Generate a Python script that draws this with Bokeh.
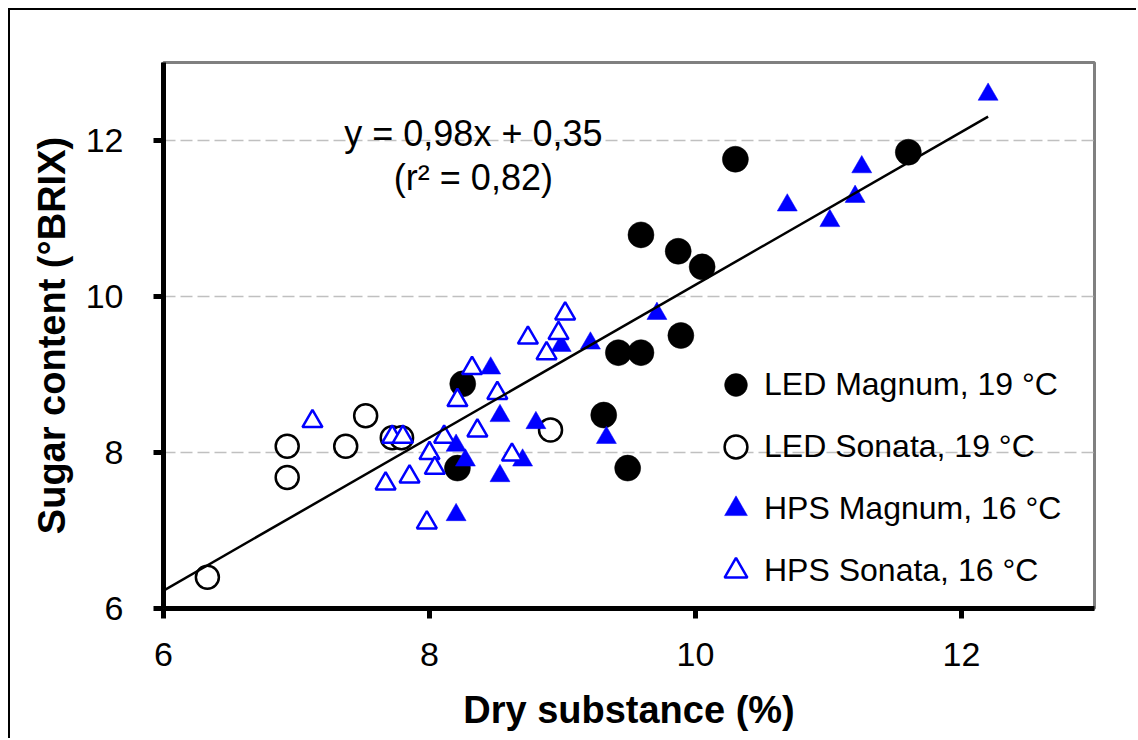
import numpy as np
from bokeh.plotting import figure
from bokeh.models import Range1d, FixedTicker, Legend, LegendItem, Label
from bokeh.embed import file_html
from bokeh.resources import INLINE

# ---- data ----
led_magnum_x = [8.25, 8.21, 9.31, 9.49, 9.42, 9.59, 9.89, 9.59, 9.87, 10.05, 10.30, 11.60]
led_magnum_y = [8.88, 7.80, 8.48, 7.80, 9.28, 9.28, 9.50, 10.79, 10.58, 10.38, 11.76, 11.85]

led_sonata_x = [6.33, 6.93, 6.93, 7.37, 7.52, 7.72, 7.79, 8.91]
led_sonata_y = [6.40, 8.08, 7.68, 8.08, 8.47, 8.19, 8.19, 8.29]

hps_magnum_x = [8.20, 8.20, 8.27, 8.46, 8.53, 8.53, 8.70, 8.80, 8.99, 9.21, 9.33, 9.71,
                10.69, 11.01, 11.20, 11.25, 12.20]
hps_magnum_y = [7.20, 8.09, 7.90, 9.08, 8.47, 7.70, 7.90, 8.38, 9.37, 9.40, 8.19, 9.78,
                11.17, 10.97, 11.28, 11.66, 12.59]

hps_sonata_x = [7.12, 7.67, 7.72, 7.80, 7.85, 7.98, 8.00, 8.04, 8.11, 8.21, 8.32, 8.36,
                8.51, 8.62, 8.74, 8.88, 8.97, 9.02]
hps_sonata_y = [8.40, 7.60, 8.20, 8.20, 7.69, 7.10, 7.99, 7.80, 8.20, 8.67, 9.08, 8.28,
                8.76, 7.97, 9.47, 9.27, 9.53, 9.78]

series_labels = ["LED Magnum, 19 °C", "LED Sonata, 19 °C", "HPS Magnum, 16 °C", "HPS Sonata, 16 °C"]
fit_slope, fit_intercept, fit_r_squared = 0.98, 0.35, 0.82
x_ticks = [6, 8, 10, 12]
y_ticks = [6, 8, 10, 12]
x_lim = (6, 13)
y_lim = (6, 13)

FONT = "Liberation Sans"
BLUE = "#0000FF"


def comma(v):
    return f"{v:.2f}".replace(".", ",")


p = figure(width=1128, height=730, output_backend="svg", toolbar_location=None,
           x_range=Range1d(*x_lim), y_range=Range1d(*y_lim),
           min_border_left=153, min_border_right=44, min_border_top=52, min_border_bottom=132)
p.styles = {"border-top": "2px solid black", "border-left": "2px solid black",
            "margin-left": "8px", "margin-top": "8px"}
p.background_fill_color = "white"
p.border_fill_color = "white"
p.outline_line_color = "#808080"
p.outline_line_width = 3

# grid
p.xgrid.visible = False
p.ygrid.ticker = FixedTicker(ticks=y_ticks)
p.ygrid.grid_line_color = "#c0c0c0"
p.ygrid.grid_line_dash = "12 5"
p.ygrid.grid_line_width = 1.5

# axes
for ax, ticks in ((p.xaxis[0], x_ticks), (p.yaxis[0], y_ticks)):
    ax.ticker = FixedTicker(ticks=ticks)
    ax.axis_line_color = "black"
    ax.axis_line_width = 5
    ax.major_tick_line_color = "black"
    ax.major_tick_line_width = 5
    ax.major_tick_out = 10
    ax.major_tick_in = 0
    ax.minor_tick_line_color = None
    ax.major_label_text_font = FONT
    ax.major_label_text_font_size = "34px"
    ax.major_label_text_color = "black"
    ax.axis_label_text_font = FONT
    ax.axis_label_text_font_size = "38px"
    ax.axis_label_text_font_style = "bold"
    ax.axis_label_text_color = "black"

p.xaxis.major_label_standoff = 24
p.yaxis.major_label_standoff = 30

p.xaxis.axis_label = "Dry substance (%)"
p.xaxis.axis_label_standoff = 20
p.yaxis.axis_label = "Sugar content (°BRIX)"
p.yaxis.axis_label_standoff = 10

# markers
r_lm = p.scatter(led_magnum_x, led_magnum_y, marker="circle", size=26,
                 fill_color="black", line_color="black", line_width=0.5)
r_ls = p.scatter(led_sonata_x, led_sonata_y, marker="circle", size=23,
                 fill_color="white", line_color="black", line_width=2.5)
r_hm = p.scatter(hps_magnum_x, hps_magnum_y, marker="triangle", size=20,
                 fill_color=BLUE, line_color=BLUE, line_width=0.5)
r_hs = p.scatter(hps_sonata_x, hps_sonata_y, marker="triangle", size=20,
                 fill_color="white", line_color=BLUE, line_width=2.5)

# regression line
all_x = led_magnum_x + led_sonata_x + hps_magnum_x + hps_sonata_x
line_x = np.array([x_lim[0], max(all_x)])
line_y = fit_slope * line_x + fit_intercept
p.line(line_x, line_y, line_color="black", line_width=2.5)

# equation
eq1 = Label(x=8.33, y=12.09, text=f"y = {comma(fit_slope)}x + {comma(fit_intercept)}",
            text_align="center", text_baseline="middle",
            text_font=FONT, text_font_size="36px", text_color="black")
eq2 = Label(x=8.33, y=11.53, text=f"(r² = {comma(fit_r_squared)})",
            text_align="center", text_baseline="middle",
            text_font=FONT, text_font_size="36px", text_color="black")
p.add_layout(eq1)
p.add_layout(eq2)

# legend
legend = Legend(items=[LegendItem(label=l, renderers=[r]) for l, r in zip(series_labels, [r_lm, r_ls, r_hm, r_hs])],
                location=(544, 9), glyph_width=57, glyph_height=57, spacing=5,
                padding=0, margin=0, label_standoff=0,
                label_text_font=FONT, label_text_font_size="32px", label_text_color="black",
                border_line_color=None, background_fill_alpha=0)
p.add_layout(legend)

open("out.html", "w").write(file_html(p, INLINE))
